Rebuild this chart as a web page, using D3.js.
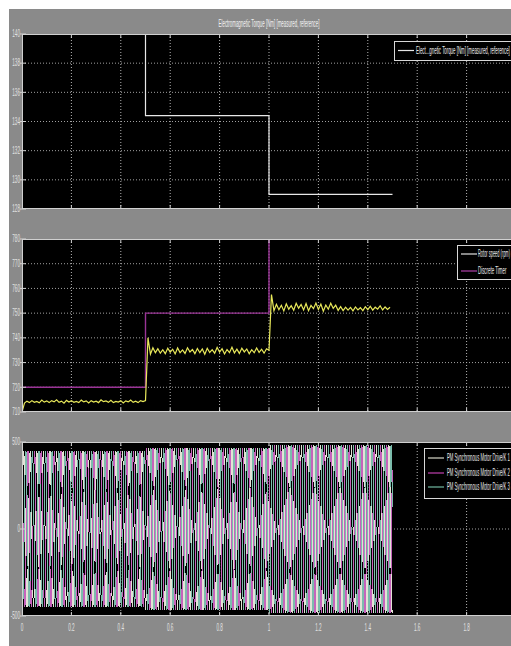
<!DOCTYPE html>
<html><head><meta charset="utf-8">
<script src="https://cdn.jsdelivr.net/npm/d3@7"></script>
<style>
html,body{margin:0;padding:0;background:#fff;}
svg{display:block;}
text{font-family:"Liberation Sans",Arial,sans-serif;fill:#e4e4e4;}
</style></head><body>
<svg id="chart" width="511" height="646"></svg>
<script>
// ---- data ----
const timeTicks = [0, 0.2, 0.4, 0.6, 0.8, 1.0, 1.2, 1.4, 1.6, 1.8, 2.0];
const timeTickLabels = ["0", "0.2", "0.4", "0.6", "0.8", "1", "1.2", "1.4", "1.6", "1.8", "2"];

const torqueTicks = [128, 130, 132, 134, 136, 138, 140];
const torqueTimes = [0, 0.5, 1.0, 1.5];
const torqueNm = [150, 134.4, 129.0, 129.0];

const speedTicks = [710, 720, 730, 740, 750, 760, 770, 780];
const timerTimes = [0, 0.5, 1.0, 1.5];
const timerRpm = [720, 750, 800, 800];
const speedStep = 0.01; // s between rotor speed samples
const speedRpm = [
  710.0, 713.6, 714.4, 713.8, 714.6, 713.9, 714.3, 713.7, 714.8, 714.0,
  714.5, 713.8, 714.6, 714.1, 714.9, 713.9, 714.4, 713.6, 714.7, 714.0,
  714.6, 713.9, 714.3, 713.8, 714.8, 714.1, 714.5, 713.7, 714.6, 714.0,
  714.4, 713.8, 714.9, 714.2, 714.5, 713.9, 714.7, 713.8, 714.3, 714.0,
  714.6, 713.7, 714.5, 714.1, 714.8, 713.9, 714.4, 713.8, 714.6, 714.2,
  714.6,
  740.0, 733.4, 736.0, 734.0, 735.6, 733.8, 735.2, 733.6, 735.8, 734.2,
  735.4, 733.5, 735.9, 734.0, 735.1, 733.7, 736.0, 734.3, 735.3, 733.6,
  735.7, 734.0, 735.5, 733.4, 735.8, 734.1, 735.2, 733.8, 736.1, 734.2,
  735.6, 733.5, 735.3, 734.0, 736.2, 733.9, 735.4, 733.7, 735.8, 734.3,
  735.5, 733.6, 735.2, 734.0, 735.9, 734.1, 735.4, 733.8, 735.6,
  735.0,
  757.5, 751.0, 753.6, 751.4, 753.2, 750.9, 753.8, 751.6, 753.0, 751.2,
  754.0, 752.0, 753.5, 751.3, 753.9, 751.0, 753.1, 751.8, 754.1, 751.5,
  753.7, 750.8, 753.3, 751.6, 754.0, 751.9, 753.2, 751.1, 752.6, 751.0,
  752.4, 751.2, 752.3, 750.9, 752.5, 751.3, 752.2, 751.0, 752.6, 751.4,
  752.8, 751.2, 752.4, 751.6, 753.0, 751.3, 752.5, 751.5, 752.4
];

const currentTicks = [-500, 0, 500];
// one electrical cycle of a phase current, per unit of its peak (15 degree steps)
const currentCycle = [
  0, 0.259, 0.5, 0.707, 0.866, 0.966, 1, 0.966, 0.866, 0.707, 0.5, 0.259,
  0, -0.259, -0.5, -0.707, -0.866, -0.966, -1, -0.966, -0.866, -0.707, -0.5, -0.259
];
const currentSegStart = [0, 0.5, 1.0];
const currentSegEnd = 1.5;
const currentPeakA = [450, 468, 480];
const currentPeriodS = [0.02667, 0.0259, 0.0253];
const phaseShift = [0, 8, 16]; // 120 degree offsets, in cycle samples

const titleText = "Electromagnetic Torque [Nm] [measured, reference]";
const torqueLegend = ["Elect...gnetic Torque [Nm] [measured, reference]"];
const speedLegend = ["Rotor speed (rpm)", "Discrete Timer"];
const currentLegend = ["PM Synchronous Motor Drive/K 1", "PM Synchronous Motor Drive/K 2", "PM Synchronous Motor Drive/K 3"];

// ---- drawing ----
const svg = d3.select("#chart");
const W = 511, H = 646;
const FIG_BG = "#8a8a8a", AX_LINE = "#d0d0d0";

const defs = svg.append("defs");
defs.append("filter").attr("id", "soft").attr("x", "-2%").attr("y", "-2%").attr("width", "104%").attr("height", "104%")
  .append("feGaussianBlur").attr("stdDeviation", 0.5);

svg.append("rect").attr("width", W).attr("height", H).attr("fill", "#fff");
svg.append("rect").attr("x", 9).attr("y", 9).attr("width", W - 9).attr("height", H - 9).attr("fill", FIG_BG);

const x = d3.scaleLinear().domain([0, 2]).range([22, 516]);

// horizontal squeeze for the narrow scope lettering
const TITLE_SIZE = 10;
const probe = svg.append("text").style("font-size", TITLE_SIZE + "px").text(titleText);
const SX = 101 / probe.node().getComputedTextLength();
probe.remove();

function label(g, px, py, str, anchor, size, fill, maxW) {
  const t = g.append("text")
    .attr("text-anchor", anchor)
    .attr("dominant-baseline", "central")
    .style("font-size", size + "px")
    .style("fill", fill || "#e4e4e4")
    .text(str);
  let sx = SX;
  if (maxW) {
    const w = t.node().getComputedTextLength() * SX;
    if (w > maxW) sx = SX * maxW / w;
  }
  t.attr("transform", `translate(${px},${py}) scale(${sx},1)`);
  return t;
}

function panel(id, top, bottom, domain, ticks, hGrid) {
  const y = d3.scaleLinear().domain(domain).range([bottom, top]);
  const g = svg.append("g");
  g.append("clipPath").attr("id", "clip-" + id)
    .append("rect").attr("x", x(0) + 1).attr("y", top + 1).attr("width", W - x(0)).attr("height", bottom - top - 2);
  g.append("rect").attr("x", x(0)).attr("y", top).attr("width", W - x(0)).attr("height", bottom - top).attr("fill", "#000");
  const grid = g.append("g").attr("clip-path", `url(#clip-${id})`);
  grid.selectAll(".hg").data(hGrid).join("line")
    .attr("x1", x(0)).attr("x2", W).attr("y1", d => y(d)).attr("y2", d => y(d))
    .attr("stroke", "#a0a0a0").attr("stroke-width", 1).attr("stroke-dasharray", "1,2");
  grid.selectAll(".vg").data(timeTicks.slice(1)).join("line")
    .attr("x1", d => x(d)).attr("x2", d => x(d)).attr("y1", top).attr("y2", bottom)
    .attr("stroke", "#b4b4b4").attr("stroke-width", 1).attr("stroke-dasharray", "1,2");
  const plot = g.append("g").attr("clip-path", `url(#clip-${id})`);
  const frame = g.append("g");
  // axis box: top, bottom, left
  frame.append("line").attr("x1", x(0)).attr("x2", W).attr("y1", top + 0.5).attr("y2", top + 0.5).attr("stroke", AX_LINE);
  frame.append("line").attr("x1", x(0)).attr("x2", W).attr("y1", bottom - 0.5).attr("y2", bottom - 0.5).attr("stroke", AX_LINE);
  frame.append("line").attr("x1", x(0) + 0.5).attr("x2", x(0) + 0.5).attr("y1", top).attr("y2", bottom).attr("stroke", AX_LINE);
  // ticks on the time axis (inside, top and bottom)
  timeTicks.slice(1).forEach(t => {
    frame.append("line").attr("x1", x(t)).attr("x2", x(t)).attr("y1", top).attr("y2", top + 4).attr("stroke", AX_LINE);
    frame.append("line").attr("x1", x(t)).attr("x2", x(t)).attr("y1", bottom - 4).attr("y2", bottom).attr("stroke", AX_LINE);
  });
  ticks.forEach(v => {
    frame.append("line").attr("x1", x(0) - 2).attr("x2", x(0) + 4).attr("y1", y(v)).attr("y2", y(v)).attr("stroke", AX_LINE);
    label(frame, 20, y(v), String(v), "end", 10.5, "#e2e2e2");
  });
  return { y, plot, frame, g };
}

function legend(g, bx, by, bh, items, colors, lineY, textX) {
  g.append("rect").attr("x", bx + 0.5).attr("y", by + 0.5).attr("width", 140).attr("height", bh)
    .attr("fill", "#000").attr("stroke", "#d8d8d8").attr("stroke-width", 1);
  items.forEach((s, i) => {
    g.append("line").attr("x1", bx + 4).attr("x2", bx + 20).attr("y1", lineY[i]).attr("y2", lineY[i])
      .attr("stroke", colors[i]).attr("stroke-width", 1.2);
    label(g, textX, lineY[i], s, "start", 10, "#ececec", W - 1 - textX);
  });
}

// --- title ---
label(svg, x(1), 24, titleText, "middle", TITLE_SIZE, "#f2f2f2");

// --- torque panel ---
const p1 = panel("torque", 34, 209, [128, 140], torqueTicks, [130, 132, 134, 136, 138]);
const torqueLine = d3.line().curve(d3.curveStepAfter).x((d, i) => x(torqueTimes[i])).y(d => p1.y(d));
p1.plot.append("path").attr("d", torqueLine(torqueNm)).attr("fill", "none")
  .attr("stroke", "#e8e8e8").attr("stroke-width", 1.2);
legend(p1.frame, 394, 41, 19, torqueLegend, ["#e6e6e6"], [50.5], 416);

// --- speed panel ---
const p2 = panel("speed", 239, 412, [710, 780], speedTicks, [720, 730, 740, 750, 760, 770]);
const timerLine = d3.line().curve(d3.curveStepAfter).x((d, i) => x(timerTimes[i])).y(d => p2.y(d));
p2.plot.append("path").attr("d", timerLine(timerRpm)).attr("fill", "none")
  .attr("stroke", "#9a3496").attr("stroke-width", 1.4);
const speedLine = d3.line().x((d, i) => x(i * speedStep)).y(d => p2.y(d));
p2.plot.append("path").attr("d", speedLine(speedRpm)).attr("fill", "none")
  .attr("stroke", "#e8e85a").attr("stroke-width", 1.2);
legend(p2.frame, 457, 245, 34, speedLegend, ["#e0e0e0", "#b040a8"], [254, 271], 478);

// --- stator current panel ---
const p3 = panel("current", 442, 616, [-500, 500], currentTicks, [0]);
const phaseColors = ["#e2e2d6", "#c664bc", "#7cbcac"];
const waves = p3.plot.append("g").attr("filter", "url(#soft)");
phaseShift.forEach((shift, p) => {
  const pts = [];
  let t = 0, k = 0;
  while (t <= currentSegEnd + 1e-9) {
    const s = t < currentSegStart[1] ? 0 : (t < currentSegStart[2] ? 1 : 2);
    pts.push([t, currentCycle[(k + shift) % currentCycle.length] * currentPeakA[s]]);
    t += currentPeriodS[s] / currentCycle.length;
    k++;
  }
  const ln = d3.line().x(d => x(d[0])).y(d => p3.y(d[1]));
  waves.append("path").attr("d", ln(pts)).attr("fill", "none")
    .attr("stroke", phaseColors[p]).attr("stroke-width", 1)
    .attr("shape-rendering", "crispEdges");
});
legend(p3.frame, 424, 448, 50, currentLegend, ["#d8d8c8", "#c040b0", "#70b8a0"], [458, 473, 487], 447);

// time axis labels (those that fall inside the window)
timeTicks.forEach((t, i) => {
  if (x(t) < W - 6) label(svg, x(t), 628, timeTickLabels[i], "middle", 10.5, "#e2e2e2");
});

// figure margin (white strip along the top and left edges)
svg.append("rect").attr("x", 0).attr("y", 0).attr("width", 9).attr("height", H).attr("fill", "#fff");
svg.append("rect").attr("x", 0).attr("y", 0).attr("width", W).attr("height", 9).attr("fill", "#fff");
</script></body></html>
